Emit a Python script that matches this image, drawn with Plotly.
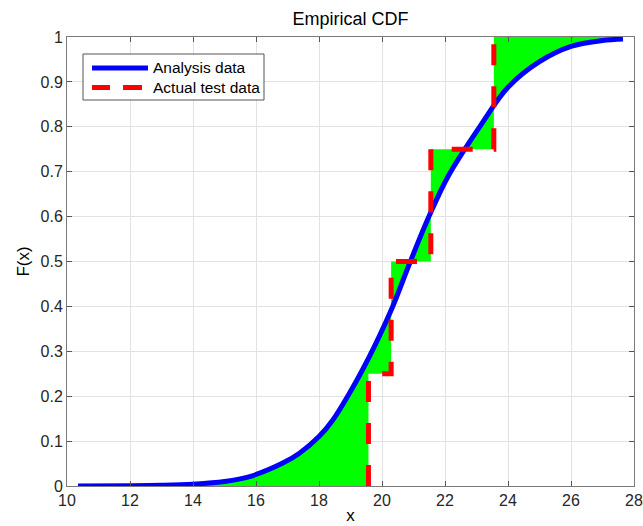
import plotly.graph_objects as go

# ---- data ----
# smooth "Analysis data" CDF curve (x, F(x))
curve_x = [10.35, 12.0, 13.0, 14.0, 15.0, 15.8, 16.85, 17.38, 18.0, 18.44, 18.97,
           19.39, 19.76, 20.34, 20.9, 21.49, 22.1, 23.1, 24.0, 25.0, 26.0, 27.0, 27.65]
curve_F = [0.0, 0.0005, 0.0015, 0.004, 0.01, 0.021, 0.051, 0.073, 0.11, 0.147, 0.207,
           0.26, 0.311, 0.4, 0.5, 0.6, 0.69, 0.8, 0.888, 0.945, 0.979, 0.992, 0.9955]

# empirical CDF of the actual test data (sample values and step levels)
test_samples = [19.57, 20.29, 21.55, 23.55]
ecdf_levels = [0.25, 0.5, 0.75, 1.0]

x_ticks = [10, 12, 14, 16, 18, 20, 22, 24, 26, 28]
y_ticks = [0, 0.1, 0.2, 0.3, 0.4, 0.5, 0.6, 0.7, 0.8, 0.9, 1.0]
y_tick_text = ["0", "0.1", "0.2", "0.3", "0.4", "0.5", "0.6", "0.7", "0.8", "0.9", "1"]

# ---- layout geometry (pixels) ----
W, H = 643, 526
ML, MR, MT, MB = 67, 9, 37, 40
PW, PH = W - ML - MR, H - MT - MB


def px(x):
    return (x - ML) / PW


def py(y):
    return (H - MB - y) / PH


FONT = "Liberation Sans, Arial, Helvetica, sans-serif"

fig = go.Figure()

# base for the green fill: ecdf staircase spanning the whole curve range
fig.add_trace(go.Scatter(
    x=[curve_x[0]] + test_samples + [curve_x[-1]],
    y=[0] + ecdf_levels + [ecdf_levels[-1]],
    mode="lines", line=dict(width=0, shape="hv"),
    showlegend=False, hoverinfo="skip"))

# green area between the curve and the staircase
fig.add_trace(go.Scatter(
    x=curve_x, y=curve_F, mode="lines",
    line=dict(width=0, shape="spline"),
    fill="tonexty", fillcolor="#00ff00",
    showlegend=False, hoverinfo="skip"))

# analysis curve
fig.add_trace(go.Scatter(
    x=curve_x, y=curve_F, mode="lines", name="Analysis data",
    line=dict(color="#0000ff", width=5, shape="spline"),
    showlegend=False))

# actual test data staircase
fig.add_trace(go.Scatter(
    x=[test_samples[0]] + test_samples, y=[0] + ecdf_levels,
    mode="lines", name="Actual test data",
    line=dict(color="#ff0000", width=5, shape="hv", dash="21px,21px"),
    showlegend=False))

axis_common = dict(
    showgrid=True, gridcolor="#e2e2e2", gridwidth=1,
    showline=True, linecolor="#7a7a7a", linewidth=1, mirror="allticks",
    ticks="inside", ticklen=5, tickcolor="#555555", tickwidth=1,
    zeroline=False, automargin=False,
    tickfont=dict(family=FONT, size=16, color="#262626"),
)

fig.update_layout(
    width=W, height=H,
    margin=dict(l=ML, r=MR, t=MT, b=MB),
    paper_bgcolor="white", plot_bgcolor="white",
    title=dict(text="Empirical CDF", x=0.5, xref="paper", xanchor="center",
               y=1 - 19 / H, yref="container", yanchor="middle",
               font=dict(family=FONT, size=18, color="#000000")),
    xaxis=dict(range=[10, 28], tickvals=x_ticks,
               title=dict(text="x", standoff=0,
                          font=dict(family=FONT, size=17, color="#000000")),
               **axis_common),
    yaxis=dict(range=[0, 1], tickvals=y_ticks, ticktext=y_tick_text,
               title=dict(text="F(x)", standoff=6,
                          font=dict(family=FONT, size=17, color="#000000")),
               **axis_common),
    showlegend=False,
)

# ---- legend box drawn manually (MATLAB-style, long line samples) ----
shapes = [
    dict(type="rect", xref="paper", yref="paper",
         x0=px(83), x1=px(264), y0=py(100), y1=py(54),
         line=dict(color="#555555", width=1), fillcolor="white", layer="above"),
    dict(type="line", xref="paper", yref="paper",
         x0=px(92), x1=px(148), y0=py(68), y1=py(68),
         line=dict(color="#0000ff", width=5), layer="above"),
    dict(type="line", xref="paper", yref="paper",
         x0=px(92), x1=px(110), y0=py(87.5), y1=py(87.5),
         line=dict(color="#ff0000", width=5), layer="above"),
    dict(type="line", xref="paper", yref="paper",
         x0=px(123), x1=px(142), y0=py(87.5), y1=py(87.5),
         line=dict(color="#ff0000", width=5), layer="above"),
]
annotations = [
    dict(text="Analysis data", xref="paper", yref="paper", x=px(151), y=py(67),
         xanchor="left", yanchor="middle", showarrow=False,
         font=dict(family=FONT, size=15.5, color="#000000")),
    dict(text="Actual test data", xref="paper", yref="paper", x=px(151), y=py(87),
         xanchor="left", yanchor="middle", showarrow=False,
         font=dict(family=FONT, size=15.5, color="#000000")),
]
fig.update_layout(shapes=shapes, annotations=annotations)

fig.write_html(
    "out.html",
    config={"displayModeBar": False, "staticPlot": True},
    post_script="document.body.style.margin='0px';"
                "document.body.style.overflow='hidden';",
)
